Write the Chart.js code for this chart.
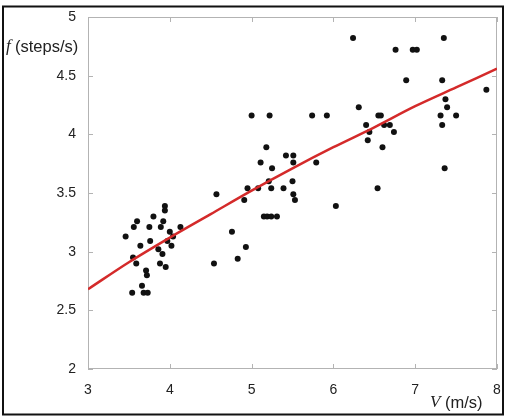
<!DOCTYPE html>
<html>
<head>
<meta charset="utf-8">
<script src="https://cdn.jsdelivr.net/npm/chart.js@4.4.1/dist/chart.umd.min.js"></script>
<style>
  html, body { margin: 0; padding: 0; background: #fff; }
  #wrap { width: 509px; height: 416px; position: relative; }
</style>
</head>
<body>
<div id="wrap"><canvas id="myChart"></canvas></div>
<script>
// walking speed V (m/s) and step frequency f (steps/s)
const speedV = [
  3.94, 3.94, 3.60, 3.80, 3.92, 3.56, 3.75, 3.89, 4.13, 3.46,
  4.00, 4.04, 3.64, 3.76, 3.97, 4.02, 3.86, 3.91, 3.55, 3.59,
  3.88, 3.95, 3.71, 3.72, 3.66, 3.54, 3.68, 3.73,
  4.57, 4.54, 4.76, 4.83, 4.93, 4.91, 4.95, 5.00, 5.08, 5.11,
  5.18, 5.22, 5.21, 5.24, 5.25, 5.15, 5.19, 5.24, 5.31, 5.39,
  5.42, 5.51, 5.51, 5.50, 5.51, 5.53, 5.74, 5.79, 5.92, 6.03,
  6.24, 6.31, 6.40, 6.42, 6.44, 6.54, 6.55, 6.58, 6.60, 6.62,
  6.69, 6.74, 6.76, 6.89, 6.97, 7.02, 7.31, 7.33, 7.33, 7.35,
  7.36, 7.37, 7.39, 7.50, 7.87
];
const freqF = [
  3.39, 3.35, 3.26, 3.30, 3.26, 3.21, 3.21, 3.21, 3.21, 3.13,
  3.17, 3.13, 3.05, 3.09, 3.09, 3.05, 3.02, 2.98, 2.95, 2.90,
  2.90, 2.87, 2.84, 2.80, 2.71, 2.65, 2.65, 2.65,
  3.49, 2.90, 3.17, 2.94, 3.04, 3.44, 3.54, 4.16, 3.54, 3.76,
  3.89, 4.16, 3.60, 3.54, 3.71, 3.30, 3.30, 3.30, 3.30, 3.54,
  3.82, 3.82, 3.76, 3.60, 3.49, 3.44, 4.16, 3.76, 4.16, 3.39,
  4.82, 4.23, 4.08, 3.95, 4.02, 3.54, 4.16, 4.16, 3.89, 4.08,
  4.08, 4.02, 4.72, 4.46, 4.72, 4.72, 4.16, 4.46, 4.08, 4.82,
  3.71, 4.30, 4.23, 4.16, 4.38
];

// red fitted curve, read at half steps
const fitV = [3, 3.5, 4, 4.5, 5, 5.5, 6, 6.5, 7, 7.5, 8];
const fitF = [2.68, 2.91, 3.12, 3.32, 3.52, 3.71, 3.89, 4.06, 4.24, 4.40, 4.56];

const xTickLabels = ['3', '4', '5', '6', '7', '8'];
const yTickLabels = ['2', '2.5', '3', '3.5', '4', '4.5', '5'];

const tickFont = { family: 'Liberation Sans, Arial, sans-serif', size: 14 };

// no extra room for overflowing end labels, plot box is fixed by layout padding
function noLabelPadding(s) {
    s.paddingLeft = 0;
    s.paddingRight = 0;
    s.paddingTop = 0;
    s.paddingBottom = 0;
}

const framePlugin = {
    id: 'frame',
    beforeDatasetsDraw(chart) {
        const { ctx, chartArea: a, scales: { x, y } } = chart;
        ctx.save();
        ctx.strokeStyle = '#b3b3b3';
        ctx.lineWidth = 1;
        ctx.strokeRect(Math.round(a.left) + 0.5, Math.round(a.top) + 0.5,
            Math.round(a.width) - 1, Math.round(a.height) - 1);
        ctx.beginPath();
        x.ticks.forEach((t, i) => {
            const px = Math.round(x.getPixelForTick(i)) + 0.5;
            ctx.moveTo(px, a.bottom); ctx.lineTo(px, a.bottom - 5);
            ctx.moveTo(px, a.top); ctx.lineTo(px, a.top + 5);
        });
        y.ticks.forEach((t, i) => {
            const py = Math.round(y.getPixelForTick(i)) + 0.5;
            ctx.moveTo(a.left, py); ctx.lineTo(a.left + 5, py);
            ctx.moveTo(a.right, py); ctx.lineTo(a.right - 5, py);
        });
        ctx.stroke();
        ctx.restore();
    },
    afterDraw(chart) {
        const ctx = chart.ctx;
        ctx.save();
        // outer border
        ctx.strokeStyle = '#111';
        ctx.lineWidth = 2;
        ctx.strokeRect(3, 6.5, 500, 408);

        ctx.fillStyle = '#222';
        ctx.textBaseline = 'middle';
        ctx.font = 'italic 17px "Liberation Serif", serif';
        ctx.fillText('f', 6, 47);
        ctx.font = '16.5px "Liberation Sans", Arial, sans-serif';
        ctx.fillText('(steps/s)', 15, 47);

        ctx.font = 'italic 17px "Liberation Serif", serif';
        ctx.fillText('V', 430, 403);
        ctx.font = '16.5px "Liberation Sans", Arial, sans-serif';
        ctx.fillText('(m/s)', 445, 403);
        ctx.restore();
    }
};

const ctx = document.getElementById('myChart');

new Chart(ctx, {
    type: 'scatter',
    data: {
        datasets: [{
            label: 'data',
            data: speedV.map((v, i) => ({ x: v, y: freqF[i] })),
            pointRadius: 3,
            pointHoverRadius: 3,
            backgroundColor: '#111',
            borderWidth: 0,
            order: 2
        }, {
            type: 'line',
            label: 'fit',
            data: fitV.map((v, i) => ({ x: v, y: fitF[i] })),
            borderColor: '#d42a2a',
            borderWidth: 2.5,
            pointRadius: 0,
            cubicInterpolationMode: 'monotone',
            fill: false,
            order: 1
        }]
    },
    options: {
        responsive: true,
        maintainAspectRatio: false,
        animation: false,
        layout: { padding: { top: 17, right: 12, left: 0, bottom: 0 } },
        plugins: {
            legend: { display: false },
            tooltip: { enabled: false }
        },
        scales: {
            x: {
                type: 'linear',
                min: 3,
                max: 8,
                grid: { display: false, drawTicks: false },
                border: { display: false },
                ticks: {
                    stepSize: 1,
                    padding: 13,
                    color: '#222',
                    font: tickFont,
                    callback: v => xTickLabels[Math.round(v - 3)]
                },
                afterFit: s => { s.height = 47; noLabelPadding(s); }
            },
            y: {
                min: 2,
                max: 5,
                grid: { display: false, drawTicks: false },
                border: { display: false },
                ticks: {
                    stepSize: 0.5,
                    padding: 12,
                    color: '#222',
                    font: tickFont,
                    callback: v => yTickLabels[Math.round((v - 2) * 2)]
                },
                afterFit: s => { s.width = 88; noLabelPadding(s); }
            }
        }
    },
    plugins: [framePlugin]
});
</script>
</body>
</html>
